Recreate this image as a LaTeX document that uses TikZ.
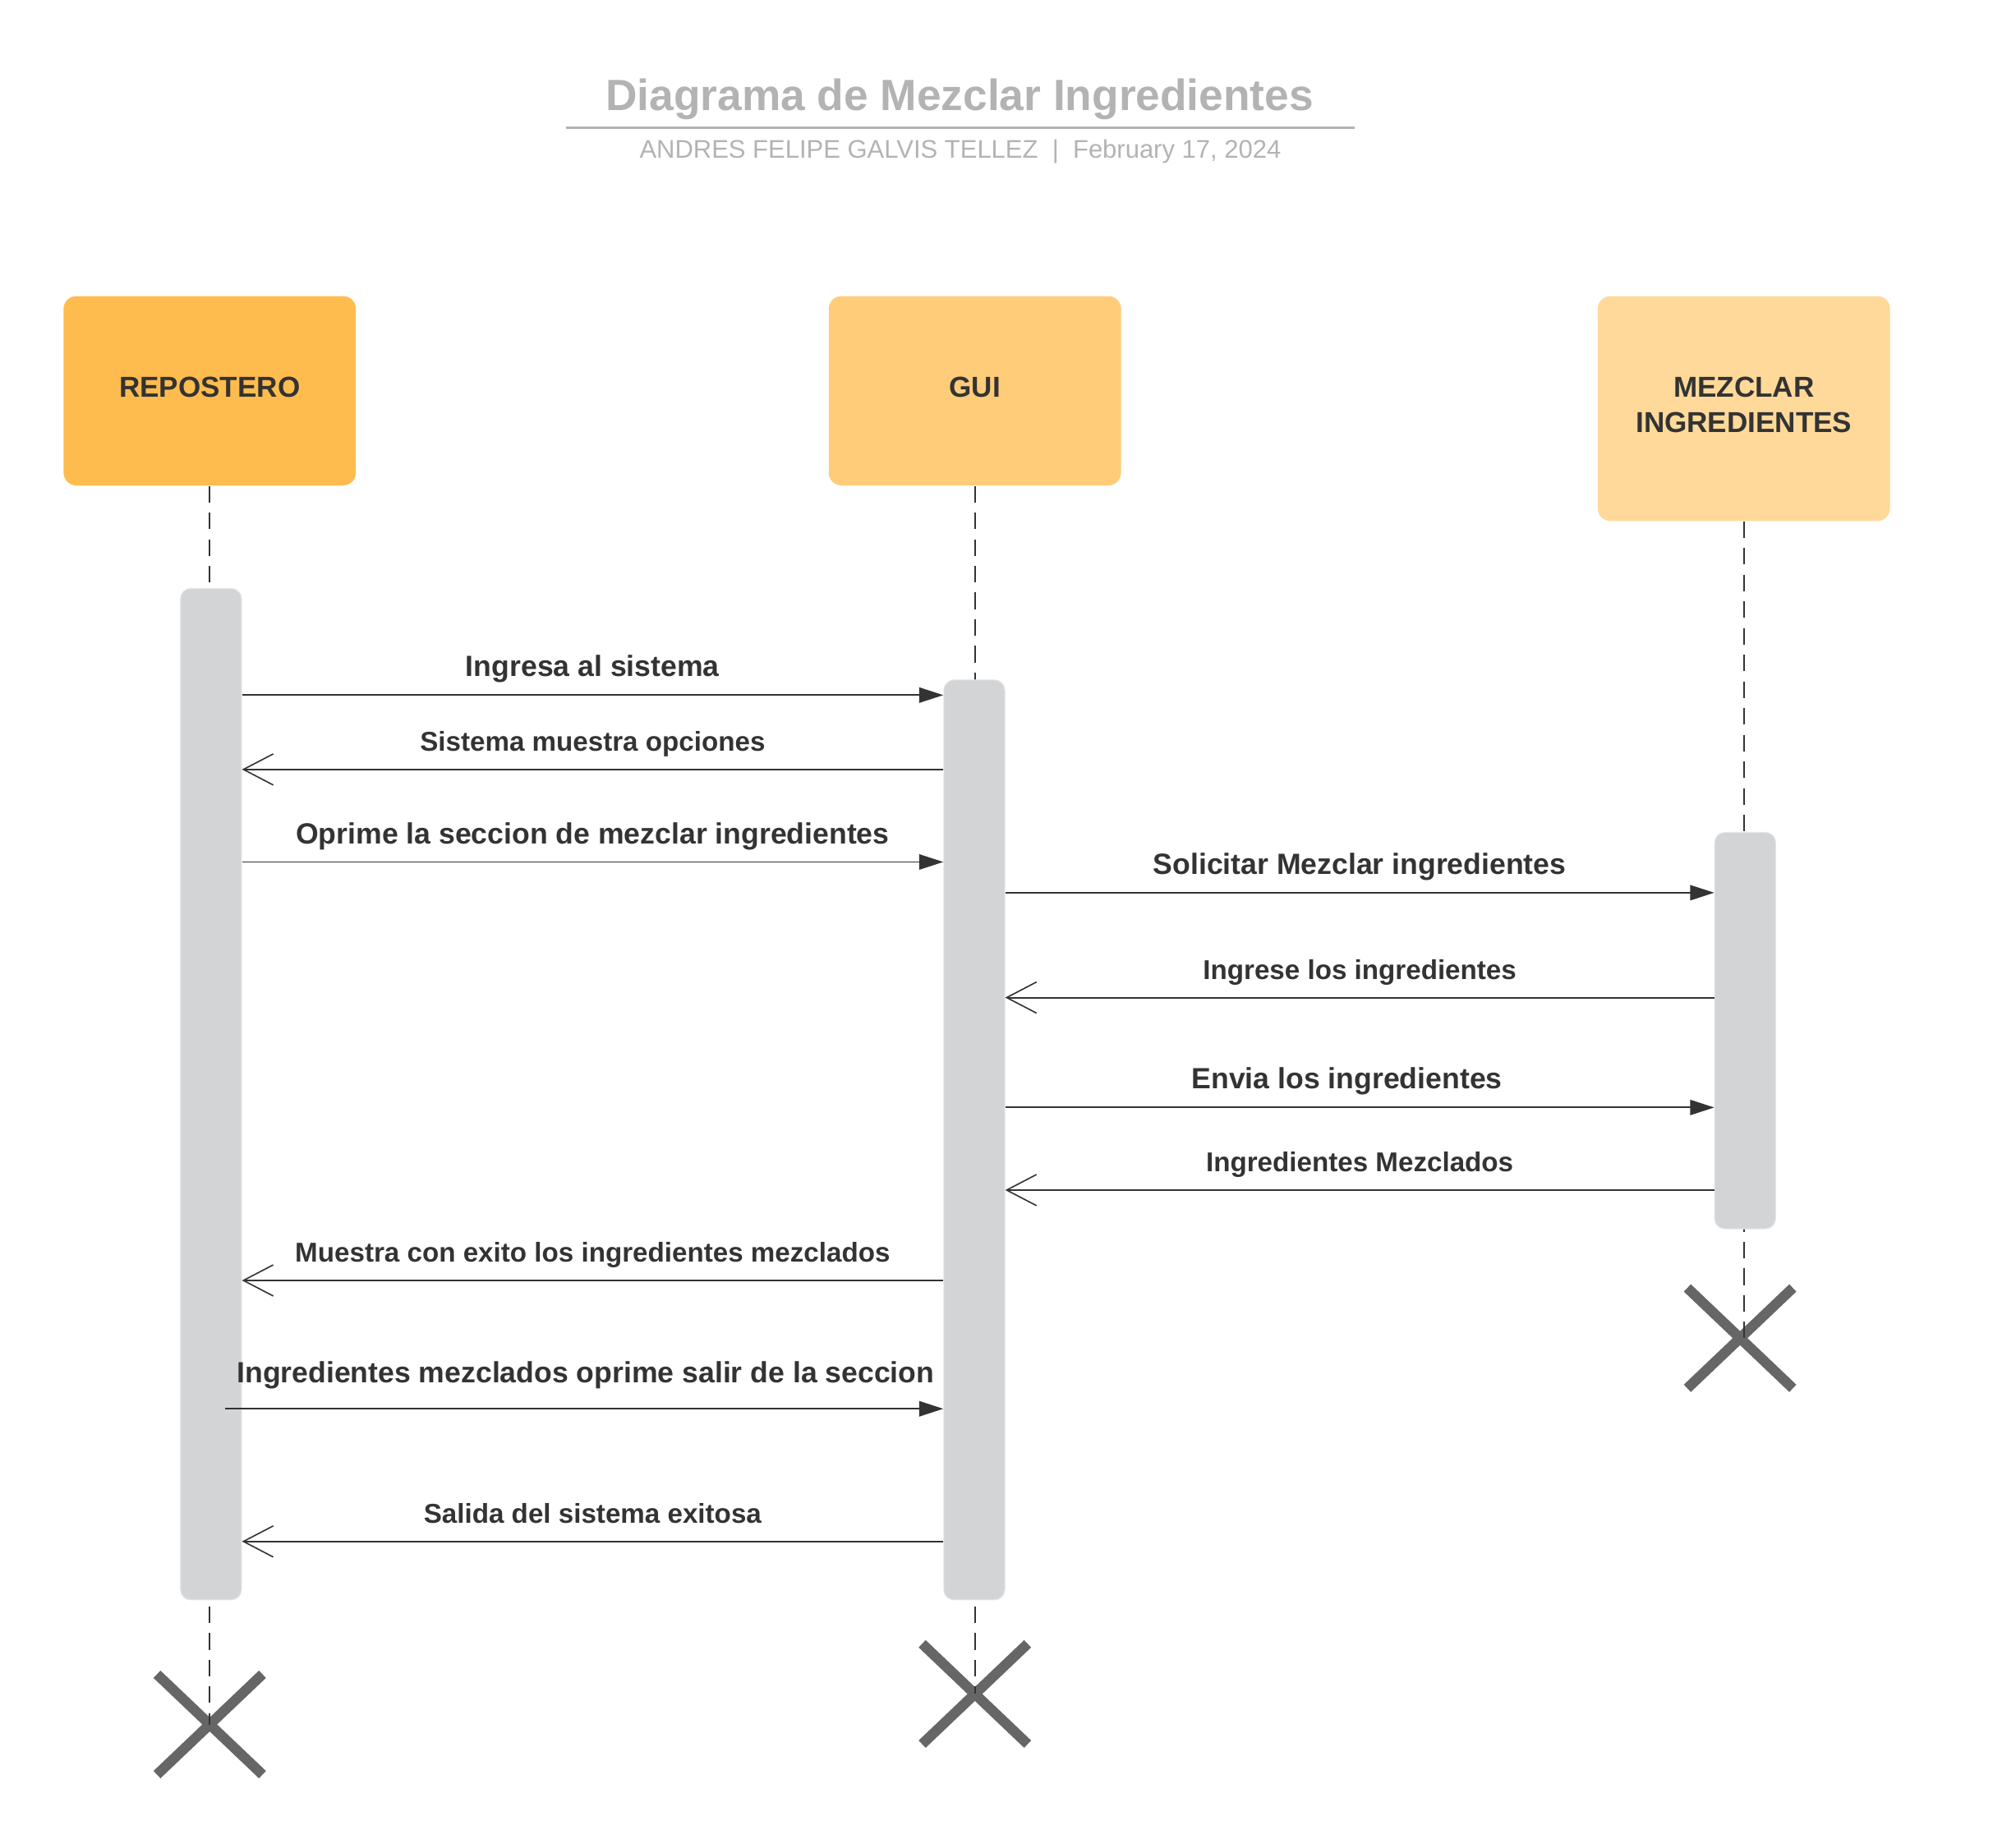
\documentclass[tikz,border=0pt]{standalone}
\usepackage{fontspec}
\setmainfont{Liberation Sans}
\usepackage{xcolor}
\usetikzlibrary{arrows.meta,shapes.misc,positioning,calc}
\definecolor{ink}{HTML}{333333}
\definecolor{softgray}{HTML}{B3B3B3}
\definecolor{repfill}{HTML}{FFBC4E}
\definecolor{guifill}{HTML}{FFCC7A}
\definecolor{mixfill}{HTML}{FFD999}
\definecolor{barfill}{HTML}{D3D4D6}
\definecolor{barline}{HTML}{E6E6E8}
\definecolor{xgray}{HTML}{666666}
\tikzstyle{heading} = [anchor=base, text=softgray, font=\bfseries\fontsize{19.6}{24}\selectfont]
\tikzstyle{byline} = [anchor=base, text=softgray, font=\fontsize{11.4}{14}\selectfont]
\tikzstyle{actor} = [rectangle, rounded corners=0.2cm, minimum width=4.6cm, inner sep=0pt]
\tikzstyle{actorname} = [text=ink, align=center, inner sep=0pt,
    font=\bfseries\fontsize{12.9}{15.6}\selectfont]
\tikzstyle{bar} = [rectangle, fill=barfill, draw=barline, line width=0.4pt,
    rounded corners=0.16cm, minimum width=0.96cm, inner sep=0pt]
\tikzstyle{lifeline} = [draw=ink, line width=0.6pt, dash pattern=on 0.26cm off 0.16cm]
\tikzstyle{destroy} = [cross out, draw=xgray, line width=0.16cm,
    minimum width=1.66cm, minimum height=1.58cm, inner sep=0pt, outer sep=0pt]
\tikzstyle{call} = [-{Triangle[length=0.38cm,width=0.24cm]}, draw=ink, line width=0.7pt]
\tikzstyle{reply} = [-{Straight Barb[length=0.47cm,width=0.49cm,line width=0.6pt]}, draw=ink, line width=0.7pt]
\tikzstyle{big} = [midway, anchor=base, yshift=0.29cm, text=ink, font=\bfseries\fontsize{13.1}{16}\selectfont]
\tikzstyle{small} = [midway, anchor=base, yshift=0.29cm, text=ink, font=\bfseries\fontsize{12.2}{15}\selectfont]

\begin{document}
\begin{tikzpicture}[x=0.02cm, y=-0.02cm]
		\useasboundingbox (0,0) rectangle (1568,1454);
		% title
		\node[heading] (ttl) at (755,87) {Diagrama de Mezclar Ingredientes};
		\draw[softgray, line width=0.05cm] (445,100.5) -- (1066,100.5);
		\node[byline] (sub) at (755.5,124.7) {ANDRES FELIPE GALVIS TELLEZ~~|~~February 17, 2024};
		
		% participants
		\node[actor, fill=repfill, minimum height=2.98cm] (rep) at (165,307.5) {};
		\node[actor, fill=guifill, minimum height=2.98cm] (gui) at (767,307.5) {};
		\node[actor, fill=mixfill, minimum height=3.54cm] (mix) at (1372,321.5) {};
		\node[actorname, yshift=0.06cm] (repT) at (rep.center) {REPOSTERO};
		\node[actorname, yshift=0.06cm] (guiT) at (gui.center) {GUI};
		\node[actorname, yshift=0.06cm] (mixT) at (mix.center) {MEZCLAR\\INGREDIENTES};
		
		% end marks
		\node[destroy] (repX) at (165,1357) {};
		\node[destroy] (guiX) at (767,1333) {};
		\node[destroy] (mixX) at (1369,1053) {};
		
		\draw[lifeline] (rep.south) -- (repX.center);
		\draw[lifeline] (gui.south) -- (guiX.center);
		\draw[lifeline] (mix.south) -- (mix.south |- mixX.center);
		
		% activations
		\node[bar, minimum height=15.92cm] (repA) at (166,861) {};
		\node[bar, minimum height=14.48cm] (guiA) at (766.5,897) {};
		\node[bar, minimum height=6.24cm] (mixA) at (1373,811) {};
		
		% messages
		\coordinate (r1) at (0,547);
		\coordinate (r2) at (0,605.5);
		\coordinate (r3) at (0,678.3);
		\coordinate (r4) at (0,702.5);
		\coordinate (r5) at (0,785);
		\coordinate (r6) at (0,871.5);
		\coordinate (r7) at (0,936.5);
		\coordinate (r8) at (0,1007.6);
		\coordinate (r9) at (0,1108.6);
		\coordinate (r10) at (0,1213);
		
		\draw[call] (repA.east |- r1) -- (guiA.west |- r1) node[big] {Ingresa al sistema};
		\draw[reply] (guiA.west |- r2) -- (repA.east |- r2) node[small] {Sistema muestra opciones};
		\draw[call] (repA.east |- r3) -- (guiA.west |- r3) node[big] {Oprime la seccion de mezclar ingredientes};
		\draw[call] (guiA.east |- r4) -- (mixA.west |- r4) node[big] {Solicitar Mezclar ingredientes};
		\draw[reply] (mixA.west |- r5) -- (guiA.east |- r5) node[small] {Ingrese los ingredientes};
		\draw[call] (guiA.east |- r6) -- (mixA.west |- r6) node[big, xshift=-0.2cm] {Envia los ingredientes};
		\draw[reply] (mixA.west |- r7) -- (guiA.east |- r7) node[small] {Ingredientes Mezclados};
		\draw[reply] (guiA.west |- r8) -- (repA.east |- r8) node[small] {Muestra con exito los ingredientes mezclados};
		\draw[call, shorten <=-0.26cm] (repA.east |- r9) -- (guiA.west |- r9) node[big, xshift=-0.11cm, yshift=0.12cm] {Ingredientes mezclados oprime salir de la seccion};
		\draw[reply] (guiA.west |- r10) -- (repA.east |- r10) node[small] {Salida del sistema exitosa};
	\end{tikzpicture}
\end{document}
